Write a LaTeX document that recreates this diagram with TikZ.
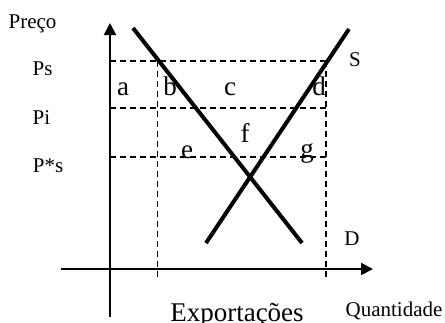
\documentclass[tikz,border=0pt]{standalone}
\usepackage{fontspec}
\setmainfont{Liberation Serif}
\usetikzlibrary{arrows.meta}
\begin{document}
\begin{tikzpicture}[x=1pt,y=-1pt,
  axis/.style={line width=2pt,-{Triangle[length=12pt,width=12pt]}},
  curve/.style={line width=4pt},
  guide/.style={line width=1.6pt,dash pattern=on 6pt off 4pt},
  smalltxt/.style={inner sep=0pt,anchor=base,font=\fontsize{21}{24}\selectfont},
  bigtxt/.style={inner sep=0pt,anchor=base,font=\fontsize{27}{30}\selectfont}]
\useasboundingbox (0,0) rectangle (445,322);
% coordinates
\coordinate (yb) at (110,317);
\coordinate (yt) at (110,23);
\coordinate (xl) at (61,269);
\coordinate (xr) at (373,269);
\coordinate (ps0) at (110,61);
\coordinate (ps1) at (326,61);
\coordinate (pi0) at (110,108);
\coordinate (pi1) at (326,108);
\coordinate (pe0) at (110,157);
\coordinate (pe1) at (326,157);
\coordinate (vl0) at (157.5,61);
\coordinate (vl1) at (157.5,277);
\coordinate (vr0) at (326,61);
\coordinate (vr1) at (326,277);
\coordinate (d0) at (133,28);
\coordinate (d1) at (302,243);
\coordinate (s0) at (206,243);
\coordinate (s1) at (349,29);
% guides
\draw[guide] (ps0) -- (ps1);
\draw[guide] (pi0) -- (pi1);
\draw[guide] (pe0) -- (pe1);
\draw[guide] (vl0) -- (vl1);
\draw[guide] (vr0) -- (vr1);
% axes
\draw[axis] (yb) -- (yt);
\draw[axis] (xl) -- (xr);
% curves
\draw[curve] (d0) -- (d1);
\draw[curve] (s0) -- (s1);
% labels
\node[smalltxt] (preco) at (32.5,28) {Preço};
\node[smalltxt] (lps) at (42.5,75) {Ps};
\node[smalltxt] (lpi) at (41.5,124) {Pi};
\node[smalltxt] (lpe) at (48,172) {P*s};
\node[smalltxt] (lS) at (355,66) {S};
\node[smalltxt] (lD) at (352,245) {D};
\node[smalltxt] (quant) at (394,316) {Quantidade};
\node[bigtxt] (la) at (123,95) {a};
\node[bigtxt] (lb) at (170,95) {b};
\node[bigtxt] (lc) at (230,95) {c};
\node[bigtxt] (ld) at (319,95) {d};
\node[bigtxt] (le) at (187,158) {e};
\node[bigtxt] (lf) at (245,142) {f};
\node[bigtxt] (lg) at (307,157) {g};
\node[bigtxt] (exp) at (237,321) {Exportações};
\end{tikzpicture}
\end{document}
